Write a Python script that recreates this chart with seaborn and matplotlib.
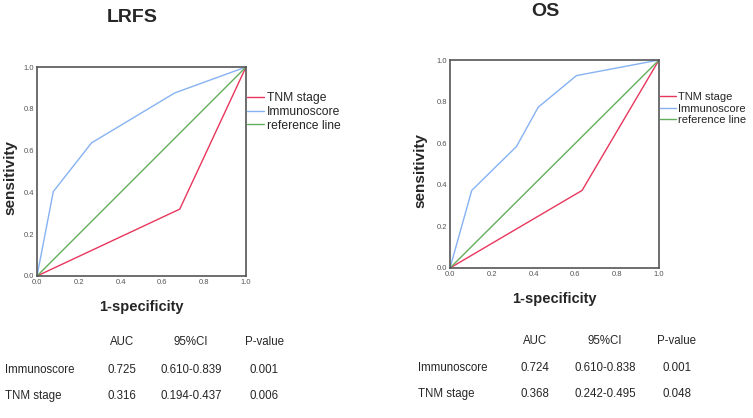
import matplotlib
matplotlib.use("Agg")
import matplotlib.pyplot as plt
import seaborn as sns
import pandas as pd

sns.set_style("white")
plt.rcParams['font.family'] = ['Liberation Sans', 'DejaVu Sans']

# LRFS ROC data
lrfs_immuno_x = [0.0, 0.078, 0.261, 0.659, 1.0]
lrfs_immuno_y = [0.0, 0.404, 0.637, 0.876, 1.0]
lrfs_tnm_x = [0.0, 0.683, 1.0]
lrfs_tnm_y = [0.0, 0.320, 1.0]

# OS ROC data
os_immuno_x = [0.0, 0.104, 0.318, 0.422, 0.605, 1.0]
os_immuno_y = [0.0, 0.373, 0.584, 0.773, 0.925, 1.0]
os_tnm_x = [0.0, 0.632, 1.0]
os_tnm_y = [0.0, 0.373, 1.0]

ref_x = [0.0, 1.0]
ref_y = [0.0, 1.0]

series_names = ["TNM stage", "Immunoscore", "reference line"]
colors = {"TNM stage": "#E8365D", "Immunoscore": "#86B2F2", "reference line": "#63AD5C"}

table_header = ["AUC", "95%CI", "P-value"]
lrfs_rows = [["Immunoscore", "0.725", "0.610-0.839", "0.001"],
             ["TNM stage", "0.316", "0.194-0.437", "0.006"]]
os_rows = [["Immunoscore", "0.724", "0.610-0.838", "0.001"],
           ["TNM stage", "0.368", "0.242-0.495", "0.048"]]


def make_df(tx, ty, ix, iy):
    parts = []
    parts.append(pd.DataFrame({"x": tx, "y": ty, "series": "TNM stage"}))
    parts.append(pd.DataFrame({"x": ix, "y": iy, "series": "Immunoscore"}))
    parts.append(pd.DataFrame({"x": ref_x, "y": ref_y, "series": "reference line"}))
    return pd.concat(parts, ignore_index=True)


fig = plt.figure(figsize=(7.53, 4.18), dpi=100)

axes_rects = [[37/753, 1-276/418, 209/753, 209/418],
              [450/753, 1-268/418, 209/753, 208/418]]
titles = ["LRFS", "OS"]
title_y = [1-17/418, 1-11/418]
dfs = [make_df(lrfs_tnm_x, lrfs_tnm_y, lrfs_immuno_x, lrfs_immuno_y),
       make_df(os_tnm_x, os_tnm_y, os_immuno_x, os_immuno_y)]
xlabel_y = [1-307/418, 1-299/418]
ylabel_x = [10/753, 420/753]
legend_pos = [(247/753, 1-92/418), (660/753, 1-92/418)]
legend_fs = [8.7, 8.0]

for i in range(2):
    ax = fig.add_axes(axes_rects[i])
    sns.lineplot(data=dfs[i], x="x", y="y", hue="series", hue_order=series_names,
                 palette=colors, sort=False, estimator=None, units="series",
                 linewidth=1.0, ax=ax, legend=False)
    ax.set_xlim(0, 1)
    ax.set_ylim(0, 1)
    ax.set_xticks([0, 0.2, 0.4, 0.6, 0.8, 1.0])
    ax.set_yticks([0, 0.2, 0.4, 0.6, 0.8, 1.0])
    ax.set_xticklabels(["0.0", "0.2", "0.4", "0.6", "0.8", "1.0"])
    ax.set_yticklabels(["0.0", "0.2", "0.4", "0.6", "0.8", "1.0"])
    ax.tick_params(labelsize=5.5, labelcolor="#555555", length=0, pad=2)
    ax.set_xlabel("")
    ax.set_ylabel("")
    for s in ax.spines.values():
        s.set_color("#555555")
        s.set_linewidth(1.2)
    cx = axes_rects[i][0] + axes_rects[i][2] / 2
    fig.text(cx - 0.012, title_y[i], titles[i], ha="center", va="center",
             fontsize=14, fontweight="bold")
    fig.text(cx, xlabel_y[i], "1-specificity", ha="center", va="center",
             fontsize=10.5, fontweight="bold")
    fig.text(ylabel_x[i], axes_rects[i][1] + axes_rects[i][3] / 2 - 0.015, "sensitivity",
             rotation=90, ha="center", va="center", fontsize=11, fontweight="bold")
    handles = [plt.Line2D([], [], color=colors[n], linewidth=1.0) for n in series_names]
    fig.legend(handles, series_names, loc="upper left", bbox_to_anchor=legend_pos[i],
               frameon=False, fontsize=legend_fs[i], handlelength=1.4, handletextpad=0.25,
               labelspacing=0.15, borderaxespad=0, borderpad=0)

# tables
tables = [lrfs_rows, os_rows]
col_x = [[122, 191, 264], [535, 605, 677]]
row_label_x = [5, 418]
header_y = [342, 341]
row_y = [[370, 396], [368, 394]]
fs = 8.3
for i in range(2):
    for j, h in enumerate(table_header):
        fig.text(col_x[i][j]/753, 1-header_y[i]/418, h, ha="center", va="center", fontsize=fs)
    for r, row in enumerate(tables[i]):
        fig.text(row_label_x[i]/753, 1-row_y[i][r]/418, row[0], ha="left", va="center", fontsize=fs)
        for j in range(3):
            fig.text(col_x[i][j]/753, 1-row_y[i][r]/418, row[j+1], ha="center", va="center", fontsize=fs)

fig.savefig("out.png", dpi=100)
